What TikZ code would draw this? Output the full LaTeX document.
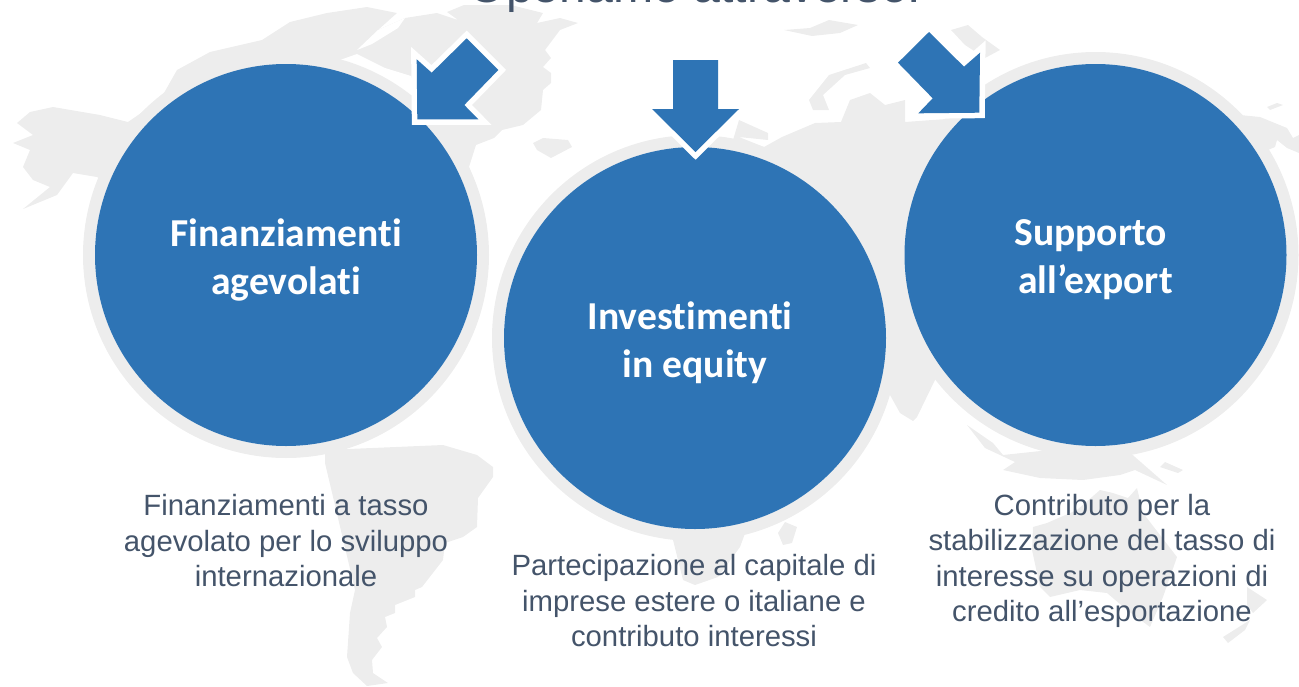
\documentclass[tikz,border=0pt]{standalone}
\usepackage{fontspec}
\setmainfont{Liberation Sans}
\newfontfamily\headfont[Ligatures=NoCommon]{Carlito}
\definecolor{DarkBlue}{HTML}{2E74B5}
\definecolor{LandGray}{HTML}{EDEDED}
\definecolor{SlateText}{HTML}{44546A}
\tikzset{
  land/.style={fill=LandGray},
  ring/.style={draw=LandGray,line width=12pt,fill=none,circle,minimum size=394pt,inner sep=0pt},
  bubble/.style={fill=DarkBlue,circle,minimum size=382pt,inner sep=0pt},
  headtext/.style={text=white,align=center,inner sep=0pt,font=\headfont\bfseries\fontsize{39.6}{48}\selectfont},
  caption/.style={text=SlateText,align=center,inner sep=0pt,font=\fontsize{29.3}{35.5}\selectfont},
  pointer/.style={fill=DarkBlue,draw=none,preaction={draw=white,line width=11pt,miter limit=10}},
}
\begin{document}
\begin{tikzpicture}[x=1pt,y=-1pt]
\useasboundingbox (0,0) rectangle (1299,686);
\clip (0,0) rectangle (1299,686);

\fill[land] (17,123) -- (30,112) -- (53,107) -- (100,115) -- (128,122) -- (160,100) -- (177,70) -- (210,52) -- (262,40) -- (290,22) -- (327,13) -- (367,7) -- (397,13) -- (378,30) -- (405,18) -- (437,13) -- (458,20) -- (447,12) -- (464,5) -- (511,5) -- (543,13) -- (537,23) -- (560,18) -- (578,23) -- (560,30) -- (545,50) -- (551,58) -- (543,67) -- (551,73) -- (551,83) -- (543,90) -- (541,110) -- (523,125) -- (502,130) -- (494,138) -- (476,145) -- (469,167) -- (474,180) -- (400,240) -- (200,240) -- (97,177) -- (73,173) -- (57,195) -- (23,209) -- (50,187) -- (33,180) -- (23,167) -- (30,150) -- (13,143) -- (33,135) -- cycle;
\fill[white] (357,50) -- (378,30) -- (405,18) -- (398,28) -- (372,44) -- cycle;
\fill[white] (340,60) -- (357,54) -- (385,68) -- (411,76) -- (420,100) -- (400,110) -- (370,90) -- cycle;
\fill[land] (325,450) -- (443,445) -- (477,455) -- (493,467) -- (493,477) -- (478,498) -- (477,527) -- (463,537) -- (445,543) -- (443,560) -- (422,587) -- (415,590) -- (415,597) -- (395,605) -- (395,613) -- (385,617) -- (387,627) -- (377,638) -- (382,647) -- (372,660) -- (373,673) -- (388,683) -- (367,686) -- (353,673) -- (347,657) -- (350,613) -- (355,590) -- (325,463) -- cycle;
\fill[land] (533,143) -- (543,138) -- (568,140) -- (572,147) -- (551,158) -- (537,150) -- cycle;
\fill[land] (784,30) -- (810,28) -- (829,20) -- (858,25) -- (840,33) -- (812,36) -- cycle;
\fill[land] (951,30) -- (968,25) -- (982,37) -- (1000,50) -- (985,58) -- (965,45) -- cycle;
\fill[land] (809,100) -- (829,75) -- (866,63) -- (870,68) -- (845,75) -- (823,95) -- (829,110) -- (813,110) -- cycle;
\fill[land] (739,120) -- (768,133) -- (768,140) -- (739,137) -- (764,147) -- (782,137) -- (815,123) -- (841,122) -- (850,100) -- (870,93) -- (885,105) -- (905,100) -- (905,122) -- (960,118) -- (1000,200) -- (935,380) -- (917,417) -- (913,421) -- (900,413) -- (890,395) -- (800,400) -- (720,300) -- (730,150) -- cycle;
\fill[land] (673,520) -- (673,540) -- (683,580) -- (695,585) -- (718,577) -- (740,547) -- (750,520) -- cycle;
\fill[land] (778,533) -- (783,545) -- (792,543) -- (797,527) -- (785,522) -- cycle;
\fill[land] (967,425) -- (993,443) -- (1003,455) -- (1050,450) -- (1127,450) -- (1167,485) -- (1135,470) -- (1120,475) -- (1083,480) -- (1040,478) -- (1003,470) -- (1015,462) -- (985,448) -- cycle;
\fill[land] (1183,470) -- (1165,462) -- (1160,467) -- (1178,473) -- cycle;
\fill[land] (1033,527) -- (1047,523) -- (1077,510) -- (1100,490) -- (1113,493) -- (1128,498) -- (1137,488) -- (1143,513) -- (1177,557) -- (1163,597) -- (1150,627) -- (1127,610) -- (1107,593) -- (1080,590) -- (1050,597) -- (1040,587) -- (1032,550) -- cycle;
\fill[land] (1247,587) -- (1267,600) -- (1253,613) -- (1247,605) -- cycle;
\fill[land] (1223,637) -- (1250,620) -- (1245,630) -- (1228,643) -- cycle;
\fill[land] (1240,115) -- (1260,117) -- (1287,128) -- (1293,138) -- (1299,135) -- (1299,153) -- (1287,148) -- (1277,140) -- (1275,147) -- (1268,150) -- (1250,170) -- (1220,150) -- cycle;
\fill[land] (1267,107) -- (1277,103) -- (1283,105) -- (1270,110) -- cycle;

\node[ring] (RA) at (286,255) {};
\node[ring] (RB) at (695,338) {};
\node[ring] (RC) at (1095.5,255) {};
\node[bubble] (A) at (RA.center) {};
\node[bubble] (B) at (RB.center) {};
\node[bubble] (C) at (RC.center) {};
\node[headtext] (HA) at ([yshift=-5pt]A.center) {Finanziamenti\\agevolati};
\node[headtext] (HB) at ([yshift=-5pt]B.center) {Investimenti\kern10pt\\in equity};
\node[headtext] (HC) at ([yshift=-5pt]C.center) {Supporto\kern10pt\\all’export};

\path[pointer] (416.7,59.3) -- (431.7,72.7) -- (466.7,38.3) -- (498.3,70) -- (464.3,105) -- (478.3,119.3) -- (417.3,119.3) -- cycle;
\path[pointer] (673,60) -- (718,60) -- (718,109) -- (739,109) -- (695.5,152) -- (652,109) -- (673,109) -- cycle;
\path[pointer] (929,32) -- (898,62.7) -- (932.7,98.3) -- (918.3,113.3) -- (979.3,112.7) -- (980,52.7) -- (964,66.7) -- cycle;

\node[text=SlateText,inner sep=0pt,anchor=base,font=\fontsize{48.2}{50}\selectfont] (T) at (695,2.5) {Operiamo attraverso:};
\node[caption] (TA) at (286,541) {Finanziamenti a tasso\\agevolato per lo sviluppo\\internazionale};
\node[caption] (TB) at (694,601) {Partecipazione al capitale di\\imprese estere o italiane e\\contributo interessi};
\node[caption] (TC) at (1102,561) {Contributo per la\\stabilizzazione del tasso di\\interesse su operazioni di\\credito all’esportazione};
\end{tikzpicture}
\end{document}
